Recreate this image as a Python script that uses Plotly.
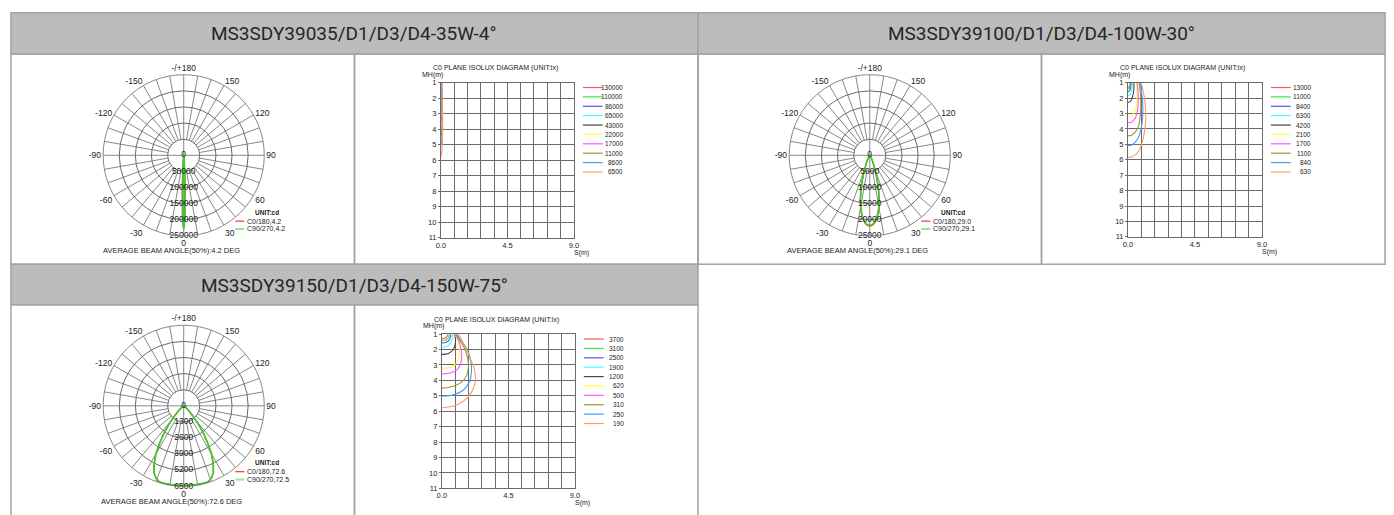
import plotly.graph_objects as go

W, H = 1394, 515

# ------------------------------------------------------------------ data
TITLES = ["MS3SDY39035/D1/D3/D4-35W-4°",
          "MS3SDY39100/D1/D3/D4-100W-30°",
          "MS3SDY39150/D1/D3/D4-150W-75°"]
BEAM_C0 = ["4.2", "29.0", "72.6"]
BEAM_C90 = ["4.2", "29.1", "72.5"]
BEAM_AVG = ["4.2", "29.1", "72.6"]

ANGLE_TICKS = [0, 30, 60, 90, 120, 150, 180, 210, 240, 270, 300, 330]
ANGLE_LABELS = ["0", "30", "60", "90", "120", "150", "-/+180",
                "-150", "-120", "-90", "-60", "-30"]

RINGS_1 = [50000, 100000, 150000, 200000, 250000]
RINGS_2 = [5000, 10000, 15000, 20000, 25000]
RINGS_3 = [1300, 2600, 3900, 5200, 6500]

# polar intensity curves (angle from nadir, cd), symmetric halves
P1_ANGLES = [0, 1, 2, 3, 4, 5, 6, 8, 10, 15, 20, 30, 60, 90]
P1_C0 = [228000, 196000, 118000, 58000, 24000, 9500, 4000, 1500, 800, 400, 200, 100, 20, 0]
P1_C90 = [228000, 197000, 119000, 59000, 24500, 9800, 4100, 1500, 800, 400, 200, 100, 20, 0]

P2_ANGLES = [0, 2, 4, 6, 8, 10, 12, 14, 16, 18, 20, 25, 30, 40, 50, 60, 90]
P2_C0 = [21900, 21700, 21100, 19900, 18300, 16300, 14000, 11400, 8900, 6700, 4900, 2200, 900, 250, 80, 30, 0]
P2_C90 = [21700, 21500, 20900, 19700, 18100, 16200, 13900, 11350, 8850, 6650, 4850, 2250, 920, 260, 80, 30, 0]

P3_ANGLES = [0, 5, 10, 15, 18, 21, 24, 27, 30, 33, 36, 39, 42, 46, 50, 55, 60, 70, 90]
P3_C0 = [6420, 6430, 6450, 6470, 6440, 6250, 5900, 5250, 4500, 3550, 2650, 1850, 1150, 620, 300, 140, 60, 20, 0]
P3_C90 = [6400, 6410, 6430, 6450, 6420, 6230, 5880, 5230, 4480, 3520, 2620, 1830, 1130, 610, 300, 140, 60, 20, 0]

# isolux contours: S (m) and MH (m) per level
ISO1_LEVELS = ["130000", "110000", "86000", "65000", "43000", "22000", "17000", "11000", "8600", "6500"]
ISO1_S = [[0, 0.012, 0.016], [0, 0.015, 0.02, 0.02], [0, 0.02, 0.025, 0.025],
          [0, 0.02, 0.03, 0.03], [0, 0.02, 0.04, 0.04, 0.035],
          [0, 0.03, 0.05, 0.06, 0.05, 0.04], [0, 0.03, 0.06, 0.07, 0.06, 0.05],
          [0, 0.04, 0.07, 0.09, 0.08, 0.06, 0.05], [0, 0.04, 0.08, 0.1, 0.1, 0.08, 0.06],
          [0, 0.05, 0.09, 0.11, 0.12, 0.11, 0.09, 0.07]]
ISO1_MH = [[1.3, 1.15, 1.0], [1.42, 1.3, 1.12, 1.0], [1.6, 1.45, 1.2, 1.0],
           [1.9, 1.75, 1.35, 1.0], [2.35, 2.2, 1.8, 1.3, 1.0],
           [3.2, 3.05, 2.7, 2.1, 1.4, 1.0], [3.6, 3.45, 3.0, 2.3, 1.5, 1.0],
           [4.5, 4.35, 3.9, 3.2, 2.4, 1.5, 1.0], [5.05, 4.9, 4.5, 3.8, 3.0, 2.0, 1.0],
           [5.8, 5.6, 5.2, 4.5, 3.5, 2.5, 1.6, 1.0]]

ISO2_LEVELS = ["13000", "11000", "8400", "6300", "4200", "2100", "1700", "1100", "840", "630"]
ISO2_S = [[0, 0.09, 0.13, 0.13], [0, 0.11, 0.16, 0.18], [0, 0.11, 0.2, 0.22],
          [0, 0.13, 0.25, 0.29, 0.29], [0, 0.16, 0.33, 0.4, 0.4],
          [0, 0.22, 0.49, 0.6, 0.6, 0.56], [0, 0.27, 0.53, 0.67, 0.69, 0.65, 0.62],
          [0, 0.27, 0.65, 0.82, 0.87, 0.82, 0.76],
          [0, 0.27, 0.67, 0.89, 1.0, 0.98, 0.87, 0.82],
          [0, 0.27, 0.71, 1.0, 1.16, 1.2, 1.11, 0.94, 0.87]]
ISO2_MH = [[1.32, 1.26, 1.06, 1.0], [1.43, 1.36, 1.11, 1.0], [1.6, 1.53, 1.28, 1.0],
           [1.85, 1.79, 1.53, 1.21, 1.0], [2.28, 2.23, 1.85, 1.43, 1.0],
           [3.19, 3.15, 2.81, 2.17, 1.53, 1.0], [3.6, 3.55, 3.23, 2.6, 1.85, 1.21, 1.0],
           [4.45, 4.4, 3.98, 3.23, 2.38, 1.53, 1.0],
           [5.09, 5.04, 4.62, 3.98, 3.13, 2.17, 1.32, 1.0],
           [5.85, 5.83, 5.47, 4.72, 3.87, 3.02, 1.96, 1.21, 1.0]]

ISO3_LEVELS = ["3700", "3100", "2500", "1900", "1200", "620", "500", "310", "250", "190"]
ISO3_S = [[0, 0.22, 0.38, 0.42], [0, 0.29, 0.47, 0.51], [0, 0.29, 0.51, 0.6, 0.6],
          [0, 0.33, 0.6, 0.71, 0.69], [0, 0.45, 0.78, 0.92, 0.89, 0.83],
          [0, 0.56, 1.0, 1.18, 1.18, 1.0, 0.87], [0, 0.56, 1.07, 1.29, 1.34, 1.23, 1.0, 0.92],
          [0, 0.56, 1.34, 1.67, 1.79, 1.74, 1.5, 1.18, 0.94],
          [0, 0.67, 1.45, 1.85, 2.0, 1.96, 1.72, 1.34, 1.0],
          [0, 1.0, 1.79, 2.17, 2.28, 2.17, 1.9, 1.56, 1.12]]
ISO3_MH = [[1.3, 1.25, 1.1, 1.0], [1.4, 1.36, 1.17, 1.0], [1.57, 1.53, 1.36, 1.08, 1.0],
           [1.85, 1.8, 1.57, 1.25, 1.0], [2.31, 2.25, 2.0, 1.57, 1.15, 1.0],
           [3.2, 3.16, 2.9, 2.42, 1.78, 1.25, 1.0], [3.58, 3.52, 3.27, 2.84, 2.31, 1.68, 1.15, 1.0],
           [4.5, 4.43, 4.11, 3.69, 3.16, 2.53, 1.85, 1.36, 1.0],
           [5.03, 4.96, 4.64, 4.11, 3.48, 2.74, 2.0, 1.47, 1.0],
           [5.77, 5.6, 5.07, 4.43, 3.9, 3.16, 2.53, 1.78, 1.0]]

X_LABEL_TICKS = ["0.0", "4.5", "9.0"]

# ------------------------------------------------------------------ style
FONT = "Liberation Sans Narrow, Liberation Sans, Arial, sans-serif"
GRID = "#6a6a6a"
TEXT = "#222222"
BORDER = "#a3a3a3"
HEAD_FILL = "#bcbcbc"
ISO_COLORS = ["#ff5555", "#44e044", "#5555ff", "#44ffff", "#444444",
              "#ffff33", "#ff55ff", "#999933", "#4499ff", "#ff9966"]
RED, GREEN = "#ff3030", "#22dd22"

POLAR_CENTERS = [(180, 154), (871, 154), (180, 409)]
R = 82
ISO_BOXES = [(439, 80, 573, 238), (1131, 80, 1266, 237), (440, 336, 574, 493)]


def px(x):
    return x / W


def py(y):
    return 1 - y / H


fig = go.Figure()
shapes = []
annotations = []


def ann(x, y, text, size=8, xanchor="center", color=TEXT, family=FONT, bold=False):
    annotations.append(dict(x=px(x), y=py(y), xref="paper", yref="paper", text=("<b>%s</b>" % text) if bold else text,
                            showarrow=False, xanchor=xanchor, yanchor="middle",
                            font=dict(size=size, color=color, family=family), borderpad=0))


def hline(x0, x1, y, color, width=1.5):
    shapes.append(dict(type="line", xref="paper", yref="paper", x0=px(x0), x1=px(x1),
                       y0=py(y), y1=py(y), line=dict(color=color, width=width)))


# ---- table
def rect(x0, y0, x1, y1, fill=None):
    shapes.append(dict(type="rect", xref="paper", yref="paper", x0=px(x0), x1=px(x1), y0=py(y1), y1=py(y0),
                       line=dict(color=BORDER, width=1.5), fillcolor=fill or "rgba(0,0,0,0)", layer="below"))


rect(6, 9, 698, 51, HEAD_FILL)
rect(698, 9, 1390, 51, HEAD_FILL)
for (a, b) in [(6, 352), (352, 698), (698, 1044), (1044, 1390)]:
    rect(a, 51, b, 265)
rect(6, 265, 698, 306, HEAD_FILL)
for (a, b) in [(6, 352), (352, 698)]:
    rect(a, 306, b, 530)

ann(352, 30, TITLES[0], size=19, family="Roboto", color="#262626")
ann(1044, 30, TITLES[1], size=19, family="Roboto", color="#262626")
ann(352, 286, TITLES[2], size=19, family="Roboto", color="#262626")

# ---- polar diagrams
POLAR_SETS = [(P1_ANGLES, P1_C0, P1_C90, RINGS_1),
              (P2_ANGLES, P2_C0, P2_C90, RINGS_2),
              (P3_ANGLES, P3_C0, P3_C90, RINGS_3)]
layout_polars = {}
for i, (angles, c0, c90, rings) in enumerate(POLAR_SETS):
    name = "polar" if i == 0 else "polar%d" % (i + 1)
    cx, cy = POLAR_CENTERS[i]
    rmax = rings[-1]
    layout_polars[name] = dict(
        domain=dict(x=[px(cx - R), px(cx + R)], y=[py(cy + R), py(cy - R)]),
        bgcolor="white",
        radialaxis=dict(range=[0, rmax], tickmode="array", tickvals=rings, showticklabels=False,
                        ticks="", showline=False, gridcolor=GRID, gridwidth=0.8),
        angularaxis=dict(rotation=270, direction="counterclockwise",
                         tickmode="array", tickvals=ANGLE_TICKS, ticktext=ANGLE_LABELS, showgrid=False,
                         ticks="", showline=True, linecolor=GRID, linewidth=0.8,
                         tickfont=dict(size=8.5, color=TEXT, family=FONT)))
    # spokes: every 10 deg from first ring, full cross lines
    sr, st = [], []
    for a in range(0, 360, 10):
        r0 = 0 if a % 90 == 0 else rings[0]
        sr += [r0, rmax, None]
        st += [a, a, None]
    fig.add_trace(go.Scatterpolar(r=sr, theta=st, mode="lines", subplot=name, showlegend=False,
                                  line=dict(color=GRID, width=0.8), hoverinfo="skip"))
    th = [-a for a in reversed(angles[1:])] + angles
    for vals, col in [(c0, RED), (c90, GREEN)]:
        rr = list(reversed(vals[1:])) + vals
        fig.add_trace(go.Scatterpolar(r=rr, theta=th, mode="lines", subplot=name, showlegend=False,
                                      line=dict(color=col, width=1.5)))
    fig.add_trace(go.Scatterpolar(r=[0] + rings, theta=[0] * (len(rings) + 1), mode="text",
                                  text=["0"] + [str(v) for v in rings], subplot=name, showlegend=False,
                                  cliponaxis=False, textfont=dict(size=8.5, color=TEXT, family=FONT)))
    # legend / captions
    ann(cx + 84, cy + 58, "UNIT:cd", size=6.5, bold=True)
    hline(cx + 52, cx + 61, cy + 67, RED, 1.2)
    hline(cx + 52, cx + 61, cy + 75, "#88ee88", 2)
    ann(cx + 63, cy + 67, "C0/180,%s" % BEAM_C0[i], size=7, xanchor="left")
    ann(cx + 63, cy + 75, "C90/270,%s" % BEAM_C90[i], size=7, xanchor="left")
    ann(cx - 12, cy + 97, "AVERAGE BEAM ANGLE(50%%):%s DEG" % BEAM_AVG[i], size=7.5)

# ---- isolux diagrams
ISO_SETS = [(ISO1_LEVELS, ISO1_S, ISO1_MH), (ISO2_LEVELS, ISO2_S, ISO2_MH), (ISO3_LEVELS, ISO3_S, ISO3_MH)]
layout_axes = {}
for i, (levels, ss, mhs) in enumerate(ISO_SETS):
    sfx = "" if i == 0 else str(i + 1)
    x0, y0, x1, y1 = ISO_BOXES[i]
    xt = [k * 0.9 for k in range(11)]
    xtt = [""] * 11
    xtt[0], xtt[5], xtt[10] = X_LABEL_TICKS
    layout_axes["xaxis" + sfx] = dict(domain=[px(x0), px(x1)], range=[0, 9], anchor="y" + sfx,
                                      tickmode="array", tickvals=xt, ticktext=xtt, showgrid=True,
                                      gridcolor=GRID, gridwidth=0.8, zeroline=False, showline=True,
                                      mirror=True, linecolor=GRID, linewidth=0.8, ticks="",
                                      tickfont=dict(size=7.5, color=TEXT, family=FONT))
    layout_axes["yaxis" + sfx] = dict(domain=[py(y1), py(y0)], range=[11, 1], anchor="x" + sfx,
                                      tickmode="array", tickvals=list(range(1, 12)),
                                      ticktext=[str(k) for k in range(1, 12)], showgrid=True,
                                      gridcolor=GRID, gridwidth=0.8, zeroline=False, showline=True,
                                      mirror=True, linecolor=GRID, linewidth=0.8, ticks="outside",
                                      ticklen=2, tickcolor=GRID, tickfont=dict(size=7.5, color=TEXT, family=FONT))
    for k, lev in enumerate(levels):
        fig.add_trace(go.Scatter(x=ss[k], y=mhs[k], mode="lines", xaxis="x" + sfx, yaxis="y" + sfx,
                                 showlegend=False, line=dict(color=ISO_COLORS[k], width=1.1, shape="spline"),
                                 cliponaxis=True))
        ly = y0 + 5 + k * 9.55
        hline(x1 + 9, x1 + 29, ly, ISO_COLORS[k], 1.2)
        ann(x1 + 50, ly, lev, size=6.5, xanchor="right")
    ann(x0 + 55, y0 - 14.5, "C0 PLANE ISOLUX DIAGRAM (UNIT:lx)", size=7)
    ann(x0 - 8, y0 - 8, "MH(m)", size=7)
    ann(x1 + 8, y1 + 15, "S(m)", size=7)

fig.update_layout(width=W, height=H, margin=dict(l=0, r=0, t=0, b=0), paper_bgcolor="white",
                  plot_bgcolor="white", showlegend=False, shapes=shapes, annotations=annotations,
                  **layout_polars, **layout_axes)
fig.write_html("out.html", config={"displayModeBar": False},
               post_script="document.body.style.margin='0';document.body.style.overflow='hidden';")
